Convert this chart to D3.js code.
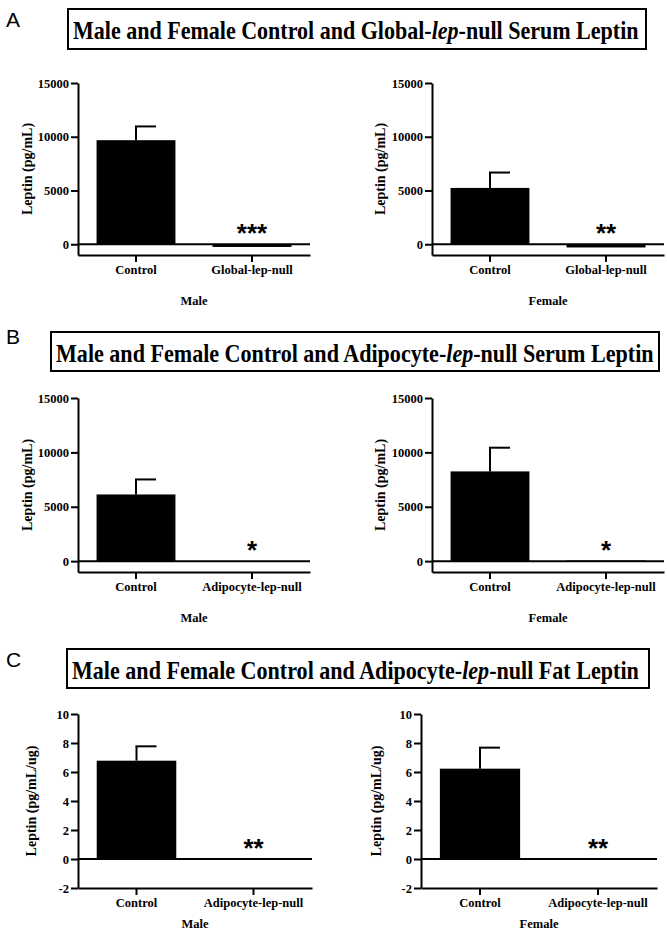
<!DOCTYPE html>
<html lang="en">
<head>
<meta charset="UTF-8">
<title>Control and lep-null leptin</title>
<script src="https://d3js.org/d3.v7.min.js"></script>
<style>
    body { margin: 0; background: #fff; }
    text { font-family: "Liberation Serif", "Times New Roman", serif; font-weight: bold; fill: #000; }
</style>
</head>
<body>
<svg id="fig" width="667" height="931"></svg>

<script>
    // categories and tick labels
    const globalGroups = ["Control", "Global-lep-null"];
    const adipoGroups = ["Control", "Adipocyte-lep-null"];
    const serumTicks = [0, 5000, 10000, 15000];
    const fatTicks = [-2, 0, 2, 4, 6, 8, 10];

    // serum leptin, global knockout (pg/mL)
    const globalMaleMean = [9680, -250];
    const globalMaleSem = [1280, 0];
    const globalFemaleMean = [5240, -300];
    const globalFemaleSem = [1430, 0];

    // serum leptin, adipocyte knockout (pg/mL)
    const adipoSerumMaleMean = [6130, -60];
    const adipoSerumMaleSem = [1380, 0];
    const adipoSerumFemaleMean = [8250, 60];
    const adipoSerumFemaleSem = [2180, 0];

    // fat leptin, adipocyte knockout (pg/mL/ug)
    const adipoFatMaleMean = [6.78, -0.05];
    const adipoFatMaleSem = [0.99, 0];
    const adipoFatFemaleMean = [6.23, 0.02];
    const adipoFatFemaleSem = [1.45, 0];

    // significance marks
    const starsA = ["", "***"];
    const starsA2 = ["", "**"];
    const starsB = ["", "*"];
    const starsC = ["", "**"];

    const titleA = ["Male and Female Control and Global-", "lep", "-null Serum Leptin"];
    const titleB = ["Male and Female Control and Adipocyte-", "lep", "-null Serum Leptin"];
    const titleC = ["Male and Female Control and Adipocyte-", "lep", "-null Fat Leptin"];

    const svg = d3.select("#fig");
    // plain hyphen for negatives, no thousands separator
    const tickFmt = function (d) { return String(d); };

    // boxed section titles
    const titles = [
        {letter: "A", ly: 27, parts: titleA, bx: 68, by: 9, bw: 578, bh: 40, tx: 73, tw: 566, ty: 39, fs: 25},
        {letter: "B", ly: 344, parts: titleB, bx: 51, by: 332, bw: 608, bh: 39, tx: 56, tw: 598, ty: 362, fs: 26},
        {letter: "C", ly: 667, parts: titleC, bx: 67, by: 649, bw: 582, bh: 39, tx: 72, tw: 567, ty: 679, fs: 25}
    ];

    titles.forEach(function (t) {
        svg.append("text")
            .attr("x", 6).attr("y", t.ly)
            .style("font-family", "'Liberation Sans', Arial, sans-serif")
            .style("font-weight", "normal")
            .style("font-size", "21px")
            .text(t.letter);
        svg.append("rect")
            .attr("x", t.bx).attr("y", t.by)
            .attr("width", t.bw).attr("height", t.bh)
            .attr("fill", "none").attr("stroke", "#000").attr("stroke-width", 2);
        const txt = svg.append("text")
            .attr("x", 0).attr("y", 0)
            .style("font-size", t.fs + "px");
        t.parts.forEach(function (s, i) {
            txt.append("tspan").style("font-style", i === 1 ? "italic" : "normal").text(s);
        });
        // squeeze the title horizontally to the width it has in the figure
        const w = txt.node().getComputedTextLength();
        txt.attr("transform", "translate(" + t.tx + "," + t.ty + ") scale(" + (t.tw / w) + ",1)");
    });

    const panels = [
        {groups: globalGroups, mean: globalMaleMean, sem: globalMaleSem, stars: starsA, sex: "Male",
         ticks: serumTicks, domain: [-1000, 15000], ylabel: "Leptin (pg/mL)",
         x0: 78, x1: 310, yTop: 83, yBottom: 255, titleGap: 50, labelOff: 51},
        {groups: globalGroups, mean: globalFemaleMean, sem: globalFemaleSem, stars: starsA2, sex: "Female",
         ticks: serumTicks, domain: [-1000, 15000], ylabel: "Leptin (pg/mL)",
         x0: 432, x1: 664, yTop: 83, yBottom: 255, titleGap: 50, labelOff: 52},
        {groups: adipoGroups, mean: adipoSerumMaleMean, sem: adipoSerumMaleSem, stars: starsB, sex: "Male",
         ticks: serumTicks, domain: [-1000, 15000], ylabel: "Leptin (pg/mL)",
         x0: 78, x1: 310, yTop: 398, yBottom: 572, titleGap: 50, labelOff: 51},
        {groups: adipoGroups, mean: adipoSerumFemaleMean, sem: adipoSerumFemaleSem, stars: starsB, sex: "Female",
         ticks: serumTicks, domain: [-1000, 15000], ylabel: "Leptin (pg/mL)",
         x0: 432, x1: 664, yTop: 398, yBottom: 572, titleGap: 50, labelOff: 52},
        {groups: adipoGroups, mean: adipoFatMaleMean, sem: adipoFatMaleSem, stars: starsC, sex: "Male",
         ticks: fatTicks, domain: [-2, 10], ylabel: "Leptin (pg/mL/ug)",
         x0: 78, x1: 312, yTop: 714, yBottom: 888, titleGap: 40, labelOff: 47},
        {groups: adipoGroups, mean: adipoFatFemaleMean, sem: adipoFatFemaleSem, stars: starsC, sex: "Female",
         ticks: fatTicks, domain: [-2, 10], ylabel: "Leptin (pg/mL/ug)",
         x0: 421, x1: 657, yTop: 714, yBottom: 888, titleGap: 40, labelOff: 45}
    ];

    panels.forEach(function (p) {
        const g = svg.append("g");
        const x = d3.scaleBand()
            .domain(p.groups)
            .range([p.x0, p.x1])
            .paddingInner(0.32)
            .paddingOuter(0.16);
        const y = d3.scaleLinear()
            .domain(p.domain)
            .range([p.yBottom, p.yTop]);

        // bars
        g.selectAll("rect.bar")
            .data(p.groups).enter()
            .append("rect")
            .attr("class", "bar")
            .attr("x", function (d) { return x(d); })
            .attr("width", x.bandwidth())
            .attr("y", function (d, i) { return y(Math.max(0, p.mean[i])); })
            .attr("height", function (d, i) { return Math.abs(y(p.mean[i]) - y(0)); })
            .attr("fill", "#000");

        // error bars (upper only, half cap)
        p.groups.forEach(function (d, i) {
            if (!p.sem[i]) return;
            const cx = x(d) + x.bandwidth() / 2;
            g.append("line")
                .attr("x1", cx).attr("x2", cx)
                .attr("y1", y(p.mean[i])).attr("y2", y(p.mean[i] + p.sem[i]))
                .attr("stroke", "#000").attr("stroke-width", 2);
            g.append("line")
                .attr("x1", cx - 1).attr("x2", cx + 20)
                .attr("y1", y(p.mean[i] + p.sem[i])).attr("y2", y(p.mean[i] + p.sem[i]))
                .attr("stroke", "#000").attr("stroke-width", 2);
        });

        // zero line
        g.append("line")
            .attr("x1", p.x0).attr("x2", p.x1)
            .attr("y1", y(0)).attr("y2", y(0))
            .attr("stroke", "#000").attr("stroke-width", 2);

        // stars
        g.selectAll("text.star")
            .data(p.groups).enter()
            .append("text")
            .attr("class", "star")
            .attr("x", function (d) { return x(d) + x.bandwidth() / 2; })
            .attr("y", y(0) - 2)
            .attr("text-anchor", "middle")
            .style("font-family", "'Liberation Sans', Arial, sans-serif")
            .style("font-size", "26px")
            .text(function (d, i) { return p.stars[i]; });

        // y axis
        const yAxis = g.append("g")
            .attr("transform", "translate(" + p.x0 + ",0)")
            .call(d3.axisLeft(y).tickValues(p.ticks).tickFormat(tickFmt)
                .tickSize(7).tickSizeOuter(0).tickPadding(2));

        // x axis
        const xAxis = g.append("g")
            .attr("transform", "translate(0," + p.yBottom + ")")
            .call(d3.axisBottom(x).tickSize(7).tickSizeOuter(0).tickPadding(3));

        [yAxis, xAxis].forEach(function (a) {
            a.attr("font-family", null).attr("font-size", null);
            a.selectAll("path, line").attr("stroke", "#000").attr("stroke-width", 2);
            a.selectAll("text")
                .style("font-family", "'Liberation Serif', 'Times New Roman', serif")
                .style("font-weight", "bold")
                .style("font-size", "12.5px")
                .attr("fill", "#000");
        });

        // axis titles
        g.append("text")
            .attr("transform", "translate(" + (p.x0 - p.labelOff) + "," + ((p.yTop + p.yBottom) / 2) + ") rotate(-90)")
            .attr("text-anchor", "middle")
            .attr("dy", "0.35em")
            .style("font-size", "14px")
            .text(p.ylabel);

        g.append("text")
            .attr("x", (p.x0 + p.x1) / 2)
            .attr("y", p.yBottom + p.titleGap)
            .attr("text-anchor", "middle")
            .style("font-size", "12.5px")
            .text(p.sex);
    });
</script>
</body>
</html>
